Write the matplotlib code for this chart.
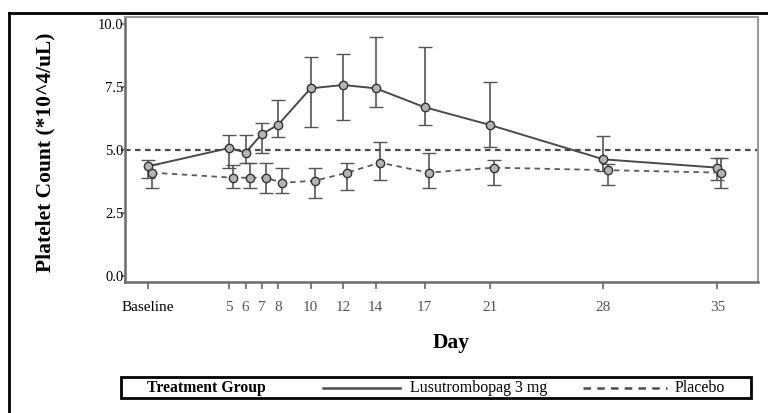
import matplotlib
matplotlib.use('Agg')
import matplotlib.pyplot as plt
from matplotlib.lines import Line2D
from matplotlib.patches import Rectangle

plt.rcParams['font.family'] = ['Liberation Serif', 'DejaVu Serif']

# data (day 0 = Baseline)
days = [0, 5, 6, 7, 8, 10, 12, 14, 17, 21, 28, 35]
day_labels = ['Baseline', '5', '6', '7', '8', '10', '12', '14', '17', '21', '28', '35']

lusu_mean = [4.35, 5.08, 4.9, 5.63, 6.0, 7.45, 7.58, 7.45, 6.7, 6.0, 4.63, 4.3]
lusu_low = [3.9, 4.3, 4.5, 4.9, 5.5, 5.9, 6.2, 6.7, 6.0, 5.1, 4.15, 3.8]
lusu_high = [4.6, 5.6, 5.6, 6.08, 7.0, 8.7, 8.8, 9.5, 9.1, 7.7, 5.57, 4.7]

plac_mean = [4.1, 3.9, 3.9, 3.9, 3.7, 3.78, 4.1, 4.5, 4.1, 4.3, 4.2, 4.1]
plac_low = [3.5, 3.5, 3.5, 3.3, 3.3, 3.1, 3.4, 3.8, 3.5, 3.6, 3.6, 3.5]
plac_high = [4.45, 4.4, 4.5, 4.5, 4.3, 4.3, 4.5, 5.3, 4.9, 4.6, 4.45, 4.7]

ref_level = 5.0
y_ticks = [0.0, 2.5, 5.0, 7.5, 10.0]

fig = plt.figure(figsize=(7.68, 4.13), dpi=100)
ax = fig.add_axes([0.1628, 0.3172, 0.8242, 0.6416])

line_col = '#4a4a4a'
dodge = 0.25

def err(mean, low, high):
    return [[m - l for m, l in zip(mean, low)], [h - m for m, h in zip(mean, high)]]

ax.errorbar(days, lusu_mean, yerr=err(lusu_mean, lusu_low, lusu_high),
            color=line_col, lw=1.4, ls='-', marker='o', ms=6, mfc='#b4b4b4',
            mec='#333333', mew=1.0, ecolor='#555555', elinewidth=1.2,
            capsize=5, capthick=1.2, zorder=3)
ax.errorbar([d + dodge for d in days], plac_mean, yerr=err(plac_mean, plac_low, plac_high),
            color='#5a5a5a', lw=1.3, ls=(0, (3, 2.5)), marker='o', ms=6, mfc='#b4b4b4',
            mec='#333333', mew=1.0, ecolor='#555555', elinewidth=1.2,
            capsize=5, capthick=1.2, zorder=3)
ax.axhline(ref_level, color='#4a4a4a', lw=1.6, ls=(0, (2.5, 2)), zorder=2)

ax.set_xlim(-1.41, 37.5)
ax.set_ylim(-0.24, 10.28)
ax.set_xticks(days)
ax.set_xticklabels(day_labels, fontsize=11)
for lab in ax.get_xticklabels()[1:]:
    lab.set_color('#555555')
ax.set_yticks(y_ticks)
ax.set_yticklabels(['%.1f' % v for v in y_ticks], fontsize=10.5)
ax.tick_params(axis='x', length=5, width=1.2, color='#666666', pad=9)
ax.tick_params(axis='y', length=3, width=1.2, color='#666666', pad=-2)

for s in ['left', 'bottom']:
    ax.spines[s].set_color('#6a6a6a')
    ax.spines[s].set_linewidth(1.8)
for s in ['top', 'right']:
    ax.spines[s].set_color('#9a9a9a')
    ax.spines[s].set_linewidth(1.5)

fig.text(45 / 768, 1 - 152 / 413, 'Platelet Count (*10^4/uL)', rotation=90,
         fontsize=15.5, fontweight='bold', ha='center', va='center')
fig.text(451 / 768, 1 - 343 / 413, 'Day', fontsize=15.5, fontweight='bold',
         ha='center', va='center')

# outer frame (cropped)
fig.add_artist(Line2D([9 / 768, 9 / 768], [0, 1 - 13 / 413], color='black', lw=2))
fig.add_artist(Line2D([9 / 768, 1], [1 - 13 / 413, 1 - 13 / 413], color='black', lw=2))

# legend box
fig.add_artist(Rectangle((121 / 768, 1 - 398 / 413), 630 / 768, 21 / 413,
                         fill=False, ec='black', lw=2))
ly = 1 - 388 / 413
fig.text(147 / 768, ly, 'Treatment Group', fontsize=11.3, fontweight='bold',
         ha='left', va='center')
fig.add_artist(Line2D([323 / 768, 400 / 768], [ly, ly], color=line_col, lw=1.8))
fig.text(410 / 768, ly, 'Lusutrombopag 3 mg', fontsize=11.5, ha='left', va='center')
fig.add_artist(Line2D([583 / 768, 667 / 768], [ly, ly], color=line_col, lw=1.8,
                      ls=(0, (3, 2.5))))
fig.text(675 / 768, ly, 'Placebo', fontsize=11.5, ha='left', va='center')

fig.savefig('out.png', dpi=100)
